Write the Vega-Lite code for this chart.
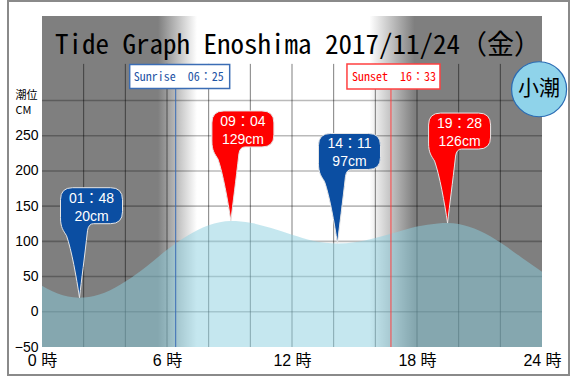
{
 "$schema": "https://vega.github.io/schema/vega-lite/v6.json",
 "width": 500,
 "height": 331,
 "autosize": {"type": "none"},
 "padding": {"left": 42, "top": 16, "right": 31, "bottom": 29},
 "background": "#ffffff",
 "config": {"view": {"stroke": null}, "axis": {"domain": false, "ticks": false, "grid": false}},
 "datasets": {
  "one": [{}],
  "tide": [
   {"hour": 0, "cm": 37}, {"hour": 0.5, "cm": 29}, {"hour": 1, "cm": 23.5}, {"hour": 1.5, "cm": 20.5},
   {"hour": 1.8, "cm": 20}, {"hour": 2, "cm": 20.2}, {"hour": 3, "cm": 27}, {"hour": 4, "cm": 43},
   {"hour": 5, "cm": 64}, {"hour": 6, "cm": 88}, {"hour": 7, "cm": 108.5}, {"hour": 8, "cm": 123},
   {"hour": 9.067, "cm": 129}, {"hour": 10, "cm": 126.5}, {"hour": 11, "cm": 119}, {"hour": 12, "cm": 109.5},
   {"hour": 13, "cm": 101}, {"hour": 14.183, "cm": 97}, {"hour": 15, "cm": 98.7}, {"hour": 16, "cm": 104.7},
   {"hour": 17, "cm": 113}, {"hour": 18, "cm": 121}, {"hour": 19, "cm": 125.4}, {"hour": 19.467, "cm": 126},
   {"hour": 20, "cm": 124.6}, {"hour": 21, "cm": 115}, {"hour": 22, "cm": 98.5}, {"hour": 23, "cm": 77.5},
   {"hour": 24, "cm": 57}
  ],
  "extremes": [
   {"hour": 1.8, "cm": 20, "type": "low", "time": "01：48", "label": "20cm"},
   {"hour": 9.067, "cm": 129, "type": "high", "time": "09：04", "label": "129cm"},
   {"hour": 14.183, "cm": 97, "type": "low", "time": "14：11", "label": "97cm"},
   {"hour": 19.467, "cm": 126, "type": "high", "time": "19：28", "label": "126cm"}
  ],
  "sun": [
   {"hour": 6.417, "kind": "sunrise", "label": "Sunrise　06：25"},
   {"hour": 16.75, "kind": "sunset", "label": "Sunset　16：33"}
  ],
  "gridH": [{"cm": 0}, {"cm": 50}, {"cm": 100}, {"cm": 150}, {"cm": 200}, {"cm": 250}, {"cm": 300}],
  "gridV": [{"hour": 2}, {"hour": 4}, {"hour": 6}, {"hour": 8}, {"hour": 10}, {"hour": 12}, {"hour": 14}, {"hour": 16}, {"hour": 18}, {"hour": 20}, {"hour": 22}]
 },
 "layer": [
  {
   "data": {"name": "one"},
   "mark": {"type": "rect", "stroke": null, "fill": {"gradient": "linear", "x1": 0, "y1": 0, "x2": 1, "y2": 0, "stops": [
     {"offset": 0, "color": "#7f7f7f"}, {"offset": 0.232, "color": "#7f7f7f"}, {"offset": 0.31, "color": "#ffffff"},
     {"offset": 0.655, "color": "#ffffff"}, {"offset": 0.745, "color": "#7f7f7f"}, {"offset": 1, "color": "#7f7f7f"}]}},
   "encoding": {
    "x": {"datum": 0, "type": "quantitative", "scale": {"domain": [0, 24], "nice": false, "zero": false},
     "axis": {"values": [0, 6, 12, 18, 24], "labelExpr": "datum.value + ' 時'", "labelFont": "Liberation Sans Narrow, Liberation Sans, Noto Sans CJK JP", "labelFontSize": 16, "labelColor": "#000000", "labelPadding": 5, "labelBaseline": "top", "labelFlush": false, "labelOverlap": false, "labelDx": 3, "title": null}},
    "x2": {"datum": 24},
    "y": {"datum": -50, "type": "quantitative", "scale": {"domain": [-50, 420], "nice": false, "zero": false},
     "axis": {"values": [-50, 0, 50, 100, 150, 200, 250], "labelFont": "Liberation Sans Narrow, Liberation Sans", "labelFontSize": 14, "labelColor": "#000000", "labelPadding": 4, "labelBaseline": "middle", "labelFlush": false, "labelOverlap": false,
      "title": ["潮位", "CM"], "titleAngle": 0, "titleAlign": "left", "titleBaseline": "top", "titleX": -27, "titleY": 73, "titleFont": "Liberation Sans Narrow, Noto Sans CJK JP", "titleFontSize": 11, "titleFontWeight": "normal", "titleLineHeight": 15, "titleColor": "#000000"}},
    "y2": {"datum": 420}
   }
  },
  {
   "data": {"name": "one"},
   "mark": {"type": "text", "text": "Tide Graph Enoshima 2017/11/24（金）", "align": "left", "baseline": "alphabetic", "fontSize": 27, "font": "Noto Sans Mono CJK JP, DejaVu Sans Mono, monospace", "color": "#000000"},
   "encoding": {"x": {"datum": 0.624, "type": "quantitative"}, "y": {"datum": 366, "type": "quantitative"}}
  },
  {
   "data": {"name": "gridV"},
   "mark": {"type": "rule", "color": "#000000", "opacity": 0.5, "strokeWidth": 1},
   "encoding": {"x": {"field": "hour", "type": "quantitative"}, "y": {"datum": -50, "type": "quantitative"}, "y2": {"datum": 352}}
  },
  {
   "data": {"name": "gridH"},
   "mark": {"type": "rule", "color": "#000000", "opacity": 0.27, "strokeWidth": 1.6},
   "encoding": {"y": {"field": "cm", "type": "quantitative"}, "x": {"datum": 0, "type": "quantitative"}, "x2": {"datum": 24}}
  },
  {
   "data": {"name": "tide"},
   "mark": {"type": "area", "interpolate": "monotone", "color": "#8ccfe0", "opacity": 0.5},
   "encoding": {
    "x": {"field": "hour", "type": "quantitative"},
    "y": {"field": "cm", "type": "quantitative"},
    "y2": {"datum": -50}
   }
  },
  {
   "data": {"name": "sun"},
   "mark": {"type": "rule", "strokeWidth": 1},
   "encoding": {
    "x": {"field": "hour", "type": "quantitative"},
    "y": {"datum": -50, "type": "quantitative"}, "y2": {"datum": 320},
    "stroke": {"field": "kind", "type": "nominal", "scale": {"domain": ["sunrise", "sunset"], "range": ["#3b6db5", "#ff4040"]}, "legend": null}
   }
  },
  {
   "data": {"name": "sun"},
   "mark": {"type": "point", "size": 10000, "fill": "#ffffff", "filled": false, "opacity": 1, "fillOpacity": 1, "strokeWidth": 1.5},
   "encoding": {
    "x": {"field": "hour", "type": "quantitative"},
    "y": {"datum": 334, "type": "quantitative"},
    "stroke": {"field": "kind", "type": "nominal", "legend": null},
    "shape": {"field": "kind", "type": "nominal", "scale": {"domain": ["sunrise", "sunset"], "range": ["M -0.92 -0.24 L 1.08 -0.24 L 1.08 0.24 L -0.92 0.24 Z", "M -0.88 -0.25 L 0.98 -0.25 L 0.98 0.25 L -0.88 0.25 Z"]}, "legend": null}
   }
  },
  {
   "data": {"name": "sun"},
   "mark": {"type": "text", "fontSize": 12, "font": "Noto Sans Mono CJK JP, DejaVu Sans Mono, monospace", "align": "center", "baseline": "middle", "dx": 3},
   "encoding": {
    "x": {"field": "hour", "type": "quantitative"},
    "y": {"datum": 334, "type": "quantitative"},
    "text": {"field": "label"},
    "color": {"field": "kind", "type": "nominal", "scale": {"domain": ["sunrise", "sunset"], "range": ["#1f55a5", "#ff0000"]}, "legend": null}
   }
  },
  {
   "data": {"name": "extremes"},
   "mark": {"type": "point", "size": 10000, "filled": true, "opacity": 1, "stroke": "#e6e6e6", "strokeWidth": 1,
    "shape": "M 0 0 C -0.06 -0.4 -0.16 -0.96 -0.26 -1.24 C -0.32 -1.34 -0.38 -1.4 -0.38 -1.6 L -0.38 -1.96 Q -0.38 -2.2 -0.14 -2.2 L 0.62 -2.2 Q 0.86 -2.2 0.86 -1.96 L 0.86 -1.72 Q 0.86 -1.48 0.62 -1.48 L 0.28 -1.48 Q 0.18 -1.48 0.16 -1.34 C 0.1 -0.8 0.04 -0.36 0 0 Z"},
   "encoding": {
    "x": {"field": "hour", "type": "quantitative"},
    "y": {"field": "cm", "type": "quantitative"},
    "fill": {"field": "type", "type": "nominal", "scale": {"domain": ["low", "high"], "range": ["#0b4ea2", "#ff0000"]}, "legend": null}
   }
  },
  {
   "data": {"name": "extremes"},
   "mark": {"type": "text", "fontSize": 14, "font": "Liberation Sans, Noto Sans CJK JP", "color": "#ffffff", "align": "center", "baseline": "middle", "dx": 12, "dy": -99},
   "encoding": {"x": {"field": "hour", "type": "quantitative"}, "y": {"field": "cm", "type": "quantitative"}, "text": {"field": "time"}}
  },
  {
   "data": {"name": "extremes"},
   "mark": {"type": "text", "fontSize": 14, "font": "Liberation Sans, Noto Sans CJK JP", "color": "#ffffff", "align": "center", "baseline": "middle", "dx": 12, "dy": -81},
   "encoding": {"x": {"field": "hour", "type": "quantitative"}, "y": {"field": "cm", "type": "quantitative"}, "text": {"field": "label"}}
  },
  {
   "data": {"name": "one"},
   "mark": {"type": "point", "shape": "circle", "size": 3025, "filled": true, "color": "#8fd3ea", "opacity": 1, "stroke": "#2b6cb4", "strokeWidth": 1.2},
   "encoding": {"x": {"datum": 23.86, "type": "quantitative"}, "y": {"datum": 316, "type": "quantitative"}}
  },
  {
   "data": {"name": "one"},
   "mark": {"type": "text", "text": "小潮", "fontSize": 21, "font": "Noto Sans CJK JP", "color": "#000000", "align": "center", "baseline": "middle"},
   "encoding": {"x": {"datum": 23.86, "type": "quantitative"}, "y": {"datum": 316, "type": "quantitative"}}
  },
  {
   "data": {"name": "one"},
   "mark": {"type": "rect", "fillOpacity": 0, "stroke": "#8a8a8a", "strokeWidth": 2},
   "encoding": {"x": {"datum": -1.632, "type": "quantitative"}, "x2": {"datum": 25.296}, "y": {"datum": 441.3, "type": "quantitative"}, "y2": {"datum": -89.7}}
  }
 ]
}
